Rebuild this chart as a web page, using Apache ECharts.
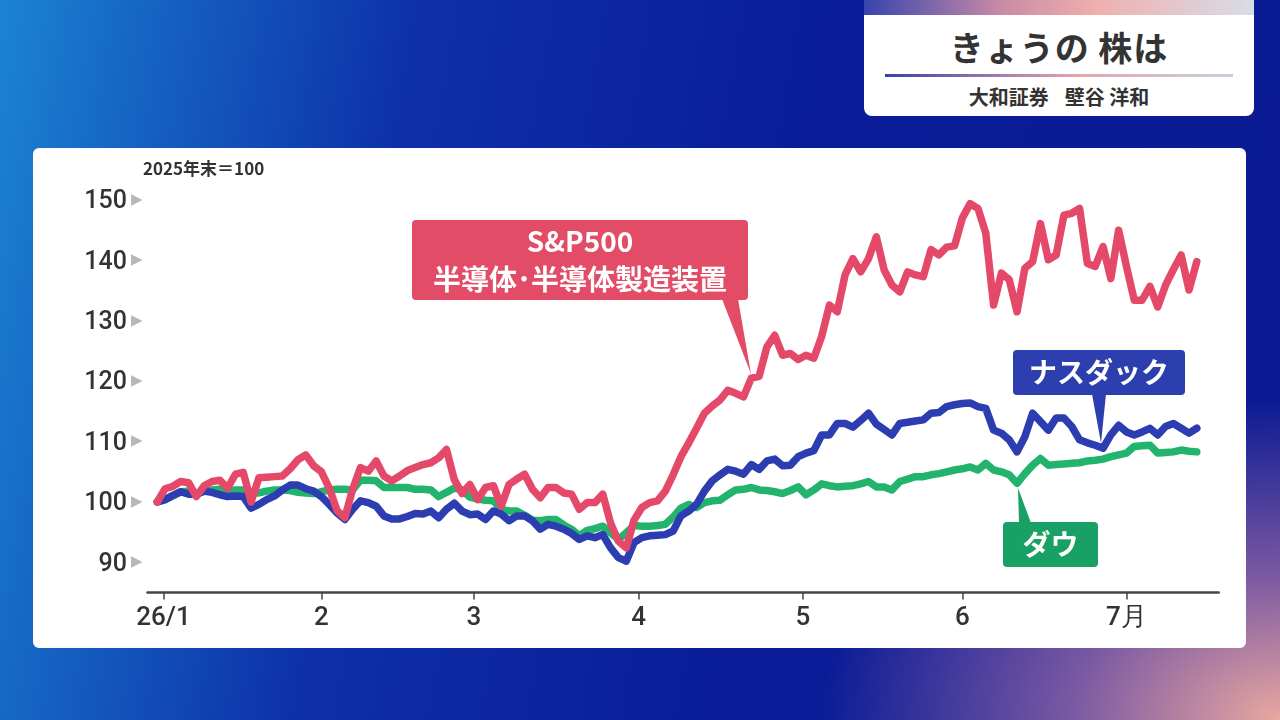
<!DOCTYPE html>
<html>
<head>
<meta charset="utf-8">
<script src="https://cdn.jsdelivr.net/npm/echarts@6.0.0/dist/echarts.min.js"></script>
<style>
html, body { margin: 0; padding: 0; width: 1280px; height: 720px; overflow: hidden; }
body {
    position: relative;
    font-family: "Noto Sans CJK JP", "Noto Sans", sans-serif;
    background:
        radial-gradient(ellipse 460px 320px at 100% 100%, rgba(245,175,160,0.95) 0%, rgba(215,140,175,0.55) 45%, rgba(20,30,150,0) 100%),
        linear-gradient(100deg, #1b84d4 0%, #1666c4 10%, #0d30a8 30%, #0a1c98 60%, #0b1a92 100%);
}
#panel { position: absolute; left: 33px; top: 148px; width: 1213px; height: 500px; background: #fff; border-radius: 6px; }
#title {
    position: absolute; left: 864px; top: 0; width: 390px; height: 116px;
    background: #fff; border-radius: 0 0 8px 8px; overflow: hidden; text-align: center; color: #333;
}
#title .strip { height: 15px; background: linear-gradient(90deg, #3644ae 0%, #c98aa6 35%, #efb0ae 60%, #d8dde8 100%); }
#title .main { font-size: 34px; font-weight: 700; line-height: 40px; margin-top: 12px; letter-spacing: 1px; }
#title .rule { position: absolute; left: 21px; top: 74px; width: 348px; height: 3px;
    background: linear-gradient(90deg, #3a3fae 0%, #e7a3ac 55%, #c8d1dd 100%); }
#title .sub { position: absolute; left: 0; top: 84px; width: 100%; font-size: 20px; font-weight: 700; line-height: 26px; }
#title .sub span { margin-left: 16px; }
#chart { position: absolute; left: 0; top: 0; width: 1280px; height: 720px; }
</style>
</head>
<body>
<div id="panel"></div>
<div id="title">
    <div class="strip"></div>
    <div class="main">きょうの 株は</div>
    <div class="rule"></div>
    <div class="sub">大和証券<span>壁谷 洋和</span></div>
</div>
<div id="chart"></div>
<script>
// 取引日インデックス（0 = 2025年末）
var monthTicks = [0.8, 21, 40.5, 61.6, 82.6, 103, 124];
var monthLabels = ['26/1', '2', '3', '4', '5', '6', '7月'];

// S&P500 半導体・半導体製造装置
var semis = [
    100, 102.2, 102.6, 103.4, 103.2, 100.9, 102.7, 103.4, 103.6, 102.3,
    104.6, 104.9, 100, 104, 104.1, 104.2, 104.3, 105.5, 107, 107.8,
    106, 105, 102.3, 98.6, 97.4, 102.1, 105.7, 105.1, 106.8, 104.3,
    103.5, 104.3, 105.2, 105.7, 106.2, 106.5, 107.3, 108.7, 103.7, 101.4,
    102.9, 100.4, 102.4, 102.7, 99.3, 102.9, 103.8, 104.6, 102.1, 100.7,
    102.4, 102.4, 101.5, 101.3, 98.8, 99.9, 99.9, 101.3, 96.5, 93.5,
    92.4, 97, 99.1, 99.9, 100.2, 101.8, 104.5, 107.5, 109.8, 112.2,
    114.7, 115.9, 116.9, 118.5, 118, 117.4, 120.5, 120.8, 125.7, 127.6,
    124.3, 124.6, 123.6, 124.3, 123.8, 127.4, 132.6, 131.5, 137.6, 140.3,
    138.1, 140.3, 143.9, 138.4, 135.9, 134.8, 138.1, 137.6, 137.3, 141.8,
    140.9, 142.2, 142.4, 147, 149.4, 148.6, 144.5, 132.6, 137.9, 136.8,
    131.5, 138.7, 139.8, 146.1, 140.1, 140.9, 147.5, 147.8, 148.6, 139.5,
    139, 142.3, 137, 145, 139, 133.4, 133.4, 135.7, 132.3, 135.9,
    138.5, 140.9, 135.1, 139.8
];

// ナスダック
var nasdaq = [
    100, 100.4, 101.1, 101.7, 101.3, 101.3, 101.8, 101.6, 101.2, 100.9,
    101, 100.9, 99, 99.6, 100.4, 101, 102, 102.8, 102.8, 102.2,
    101.8, 100.9, 99.6, 98.2, 97.1, 98.8, 100.2, 99.9, 99.3, 97.7,
    97.2, 97.2, 97.6, 98.1, 98, 98.5, 97.4, 98.8, 99.8, 98.5,
    97.9, 98, 97.1, 98.5, 98, 96.9, 97.7, 97.7, 96.9, 95.5,
    96.3, 96, 95.5, 94.8, 93.8, 94.4, 94.1, 94.6, 92.4, 90.8,
    90.2, 93.3, 94.1, 94.4, 94.5, 94.6, 95.2, 97.7, 98.5, 99.6,
    101.8, 103.5, 104.5, 105.4, 105.1, 104.6, 106.2, 105.4, 106.8, 107.1,
    106, 106.1, 107.5, 108.1, 108.5, 111.1, 111.1, 113, 113, 112.4,
    113.5, 114.7, 112.9, 112, 111.1, 113, 113.2, 113.4, 113.6, 114.7,
    114.8, 115.8, 116.1, 116.3, 116.4, 115.8, 115.5, 111.9, 111.4, 110.3,
    108.3, 110.8, 114.7, 113.3, 111.9, 113.9, 113.9, 112.5, 110.3, 109.8,
    109.4, 108.9, 111.1, 112.7, 111.6, 111.1, 111.6, 112.2, 111.1, 112.5,
    113, 112.2, 111.4, 112.2
];

// ダウ
var dow = [
    100, 100.4, 101, 101.7, 101.8, 101.4, 101.8, 102, 102.1, 101.8,
    102, 102, 101.6, 101.5, 101.8, 102, 102, 101.9, 101.6, 101.5,
    101.4, 101.7, 102, 102.1, 102.1, 102, 103.6, 103.6, 103.5, 102.4,
    102.4, 102.4, 102.4, 102.1, 102.1, 102, 100.9, 101.6, 102.3, 102,
    100.8, 100.5, 100.3, 100.2, 98.8, 98.5, 98.5, 97.8, 97, 96.9,
    97.1, 97.1, 96.2, 95.5, 94.4, 95.3, 95.6, 96, 94.9, 93.8,
    94.9, 96.1, 96, 96, 96.1, 96.3, 97.5, 99, 99.6, 99.1,
    99.9, 100.2, 100.3, 101.2, 102, 102.1, 102.4, 102, 101.9, 101.7,
    101.4, 101.9, 102.5, 101.2, 102, 103, 102.7, 102.5, 102.6, 102.7,
    103, 103.4, 102.5, 102.5, 102, 103.4, 103.8, 104.2, 104.2, 104.5,
    104.7, 105, 105.3, 105.5, 105.8, 105.3, 106.4, 105.3, 105, 104.5,
    103.1, 104.7, 106.1, 107.2, 106.1, 106.2, 106.3, 106.4, 106.5, 106.8,
    106.9, 107.1, 107.5, 107.8, 108.1, 109.2, 109.3, 109.4, 108.1, 108.2,
    108.3, 108.6, 108.4, 108.3
];

var RED = '#e5496a', BLUE = '#2c3db1', GREEN = '#22b36c';

function pairs(arr) {
    return arr.map(function (v, i) { return [i, v]; });
}

function callout(x, y, w, h, pointer, color, lines, lineGap) {
    var els = [
        { type: 'rect', shape: { x: x, y: y, width: w, height: h, r: 4 }, style: { fill: color } },
        { type: 'polygon', shape: { points: pointer }, style: { fill: color } }
    ];
    var top = y + h / 2 - (lines.length - 1) * lineGap / 2;
    lines.forEach(function (t, k) {
        els.push({
            type: 'text', x: x + w / 2, y: top + k * lineGap,
            style: {
                text: t, fill: '#fff', font: 'bold 28px "Noto Sans CJK JP"',
                textAlign: 'center', textVerticalAlign: 'middle'
            }
        });
    });
    return { type: 'group', z: 100, children: els };
}

var chart = echarts.init(document.getElementById('chart'), null, { renderer: 'canvas' });

var option = {
    animation: false,
    backgroundColor: 'transparent',
    grid: { left: 147.5, right: 61.3, top: 200, bottom: 127.4 },
    xAxis: {
        type: 'value',
        min: -1.25,
        max: 135.8,
        splitLine: { show: false },
        axisLine: { lineStyle: { color: '#454545', width: 2.5 } },
        axisTick: { customValues: monthTicks, length: 7, lineStyle: { color: '#454545', width: 1.5 } },
        axisLabel: {
            customValues: monthTicks,
            formatter: function (v) { return monthLabels[monthTicks.indexOf(v)]; },
            color: '#333', fontSize: 26, fontWeight: 500, fontFamily: 'Roboto', margin: 13
        }
    },
    yAxis: {
        type: 'value',
        min: 85,
        max: 150,
        interval: 5,
        splitLine: { show: false },
        axisLine: { show: false },
        axisTick: { show: false },
        axisLabel: {
            margin: 5,
            formatter: function (v) {
                return v % 10 === 0 ? '{v|' + v + '}{t|▶}' : '';
            },
            rich: {
                v: { color: '#333', fontSize: 25, fontWeight: 500, fontFamily: 'Roboto', padding: [4, 0, 0, 0] },
                t: { color: '#b8b8b8', fontSize: 15, fontFamily: 'DejaVu Sans', padding: [0, 0, 0, 4] }
            }
        }
    },
    series: [
        { name: 'ダウ', type: 'line', data: pairs(dow), showSymbol: false, color: GREEN,
          lineStyle: { width: 7.5, color: GREEN, join: 'round', cap: 'round' } },
        { name: 'ナスダック', type: 'line', data: pairs(nasdaq), showSymbol: false, color: BLUE,
          lineStyle: { width: 7.5, color: BLUE, join: 'round', cap: 'round' } },
        { name: 'S&P500 半導体', type: 'line', data: pairs(semis), showSymbol: false, color: RED,
          lineStyle: { width: 7.5, color: RED, join: 'round', cap: 'round' } }
    ],
    graphic: [
        { type: 'text', left: 143, top: 160, z: 100,
          style: { text: '2025年末＝100', fill: '#333', font: 'bold 17px "Noto Sans CJK JP"' } },
        callout(412, 220, 336, 80, [[722, 299], [738, 299], [751, 374]], '#e24c67',
                ['S&P500', '半導体･半導体製造装置'], 38),
        callout(1013, 350, 172, 45, [[1092, 394], [1106, 394], [1101, 443]], '#2d3eaf',
                ['ナスダック'], 0),
        callout(1003, 522, 95, 45, [[1019, 523], [1031, 523], [1018, 488]], '#19a064',
                ['ダウ'], 0)
    ]
};

chart.setOption(option);
</script>
</body>
</html>
